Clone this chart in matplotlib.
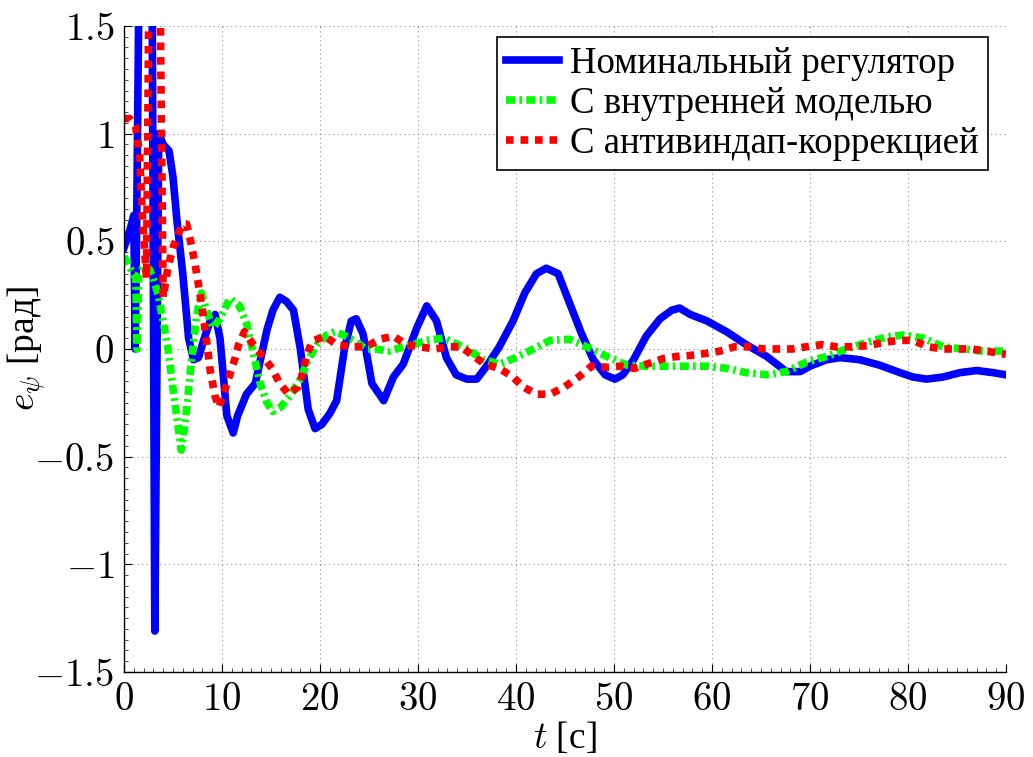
import numpy as np
import matplotlib
matplotlib.use("Agg")
from matplotlib import pyplot as plt
from matplotlib.ticker import MultipleLocator

# --- data ---
t_nom = [0, 0.6, 1.0, 1.15, 1.3, 1.7, 2.8, 3.15, 3.55, 4.0, 4.6, 5.0, 5.4, 6.0, 6.6, 7.1,
         7.6, 8.2, 8.8, 9.3, 9.8, 10.5, 11.15, 11.6, 12.5, 13.4, 14.6, 15.2, 15.9, 16.6,
         17.3, 18.0, 18.8, 19.5, 20.2, 21.0, 21.7, 22.5, 23.2, 23.7, 24.4, 25.3, 26.5,
         27.5, 28.5, 29.9, 30.9, 31.9, 32.9, 33.9, 35.0, 36.0, 37.0, 38.3, 39.7, 40.9,
         42.1, 43.1, 44.3, 45.5, 46.7, 47.9, 49.1, 50.1, 50.9, 52.0, 53.3, 54.7, 55.9,
         56.7, 57.8, 59.5, 61.5, 63.5, 65.6, 67.6, 69.0, 70.0, 71.7, 73.1, 75.1, 77.1,
         79.2, 80.5, 81.9, 83.6, 85.3, 87.0, 88.7, 90.0]
e_nom = [0.47, 0.55, 0.62, 0.0, 0.6, 2.5, 2.5, -1.31, 1.0, 0.95, 0.92, 0.8, 0.6, 0.35, 0.05,
         -0.05, -0.04, 0.05, 0.13, 0.16, 0.05, -0.31, -0.39, -0.31, -0.21, -0.16, 0.09, 0.18,
         0.24, 0.22, 0.18, 0.0, -0.28, -0.37, -0.35, -0.30, -0.24, 0.0, 0.13, 0.14, 0.07,
         -0.16, -0.24, -0.13, -0.07, 0.10, 0.20, 0.13, -0.04, -0.12, -0.14, -0.14, -0.08,
         0.01, 0.13, 0.26, 0.35, 0.375, 0.35, 0.21, 0.07, -0.05, -0.12, -0.14, -0.12, -0.05,
         0.06, 0.14, 0.18, 0.19, 0.16, 0.13, 0.08, 0.02, -0.035, -0.105, -0.105, -0.08,
         -0.05, -0.04, -0.05, -0.075, -0.11, -0.13, -0.14, -0.13, -0.11, -0.10, -0.11, -0.12]

t_im = [0, 0.7, 1.2, 1.35, 1.5, 2.0, 2.6, 3.0, 3.5, 4.0, 4.5, 5.0, 5.5, 5.85, 6.4, 6.9, 7.4,
        7.9, 8.5, 9.1, 9.8, 10.8, 11.8, 12.5, 13.2, 13.9, 14.6, 15.2, 16.0, 16.9, 18.0,
        18.8, 19.7, 20.7, 21.5, 22.4, 23.4, 24.7, 25.7, 27.1, 28.5, 29.5, 30.9, 32.6, 33.6,
        35.0, 36.7, 38.4, 40.0, 41.8, 43.5, 45.5, 47.2, 49.3, 51.3, 53.3, 55.4, 57.4, 59.5,
        61.5, 63.5, 65.6, 67.6, 69.7, 71.7, 73.7, 75.8, 77.8, 79.5, 81.6, 83.6, 85.6, 87.7,
        90.0]
e_im = [0.43, 0.37, 0.33, 0.0, 0.35, 0.38, 0.37, 0.33, 0.25, 0.13, 0.0, -0.18, -0.35, -0.47,
        -0.28, -0.05, 0.15, 0.26, 0.17, 0.10, 0.14, 0.235, 0.20, 0.12, -0.02, -0.16, -0.25,
        -0.29, -0.27, -0.22, -0.14, -0.05, 0.02, 0.065, 0.08, 0.065, 0.04, 0.0, 0.0, -0.01,
        0.01, 0.02, 0.04, 0.05, 0.03, 0.0, -0.05, -0.07, -0.04, 0.0, 0.04, 0.045, 0.01,
        -0.035, -0.075, -0.08, -0.08, -0.08, -0.08, -0.09, -0.11, -0.12, -0.105, -0.06,
        -0.035, 0.0, 0.03, 0.055, 0.065, 0.05, 0.01, 0.0, -0.01, -0.01]

t_aw = [0, 0.6, 1.2, 1.6, 1.9, 2.3, 2.7, 3.5, 4.0, 4.5, 5.0, 5.5, 6.0, 6.4, 6.8, 7.2, 7.6,
        8.0, 8.4, 8.8, 9.3, 9.7, 10.3, 10.8, 11.3, 11.7, 12.3, 13.2, 14.2, 15.1, 15.9, 16.8,
        17.8, 18.3, 18.6, 19.2, 20.5, 21.7, 23.2, 24.7, 26.1, 27.5, 28.8, 30.2, 31.7, 33.2,
        34.4, 35.6, 36.8, 38.3, 39.7, 40.7, 42.1, 43.5, 45.0, 46.4, 47.7, 49.3, 50.6, 52.1,
        53.7, 55.0, 56.4, 57.8, 59.5, 60.8, 62.3, 63.7, 65.2, 66.7, 68.2, 69.6, 71.2, 72.7,
        74.2, 75.8, 77.5, 79.0, 80.5, 82.1, 83.6, 85.0, 86.5, 88.0, 90.0]
e_aw = [1.07, 1.07, 1.03, 0.9, 0.6, 0.33, 2.5, 2.5, 0.24, 0.38, 0.47, 0.53, 0.58, 0.58, 0.5,
        0.41, 0.30, 0.18, 0.05, -0.1, -0.22, -0.27, -0.19, -0.12, -0.05, 0.02, 0.08, 0.02,
        -0.035, -0.09, -0.16, -0.21, -0.175, -0.105, -0.035, 0.035, 0.06, 0.02, 0.01, 0.01,
        0.045, 0.06, 0.02, 0.01, 0.0, 0.01, 0.01, -0.03, -0.07, -0.09, -0.13, -0.175, -0.21,
        -0.21, -0.175, -0.13, -0.08, -0.085, -0.08, -0.09, -0.065, -0.045, -0.035, -0.03,
        -0.02, -0.01, 0.01, 0.01, 0.0, 0.0, 0.0, 0.01, 0.02, 0.01, 0.01, 0.015, 0.03, 0.04,
        0.04, 0.01, 0.0, 0.0, 0.0, -0.01, -0.025]

labels = ["Номинальный регулятор", "С внутренней моделью", "С антивиндап-коррекцией"]
xticks = [0, 10, 20, 30, 40, 50, 60, 70, 80, 90]
yticks = [-1.5, -1, -0.5, 0, 0.5, 1, 1.5]
xtick_labels = ["$%g$" % v for v in xticks]
ytick_labels = ["$%g$" % v for v in yticks]

# serif face for the cyrillic text, Computer Modern for the math
plt.rcParams['font.family'] = 'serif'
plt.rcParams['font.serif'] = ['Liberation Serif', 'Times New Roman', 'DejaVu Serif']
plt.rcParams['mathtext.fontset'] = 'cm'

fig = plt.figure(figsize=(10.33, 7.57), dpi=100)
ax = fig.add_axes([0.120, 0.1123, 0.8538, 0.8534])

lw = 5.5
ax.plot(t_nom, e_nom, color=(0, 0, 1), lw=lw, solid_joinstyle='round', label=labels[0])
ax.plot(t_im, e_im, color=(0, 1, 0), lw=lw, dashes=(1.2, 0.55, 0.35, 0.55),
        dash_capstyle='butt', label=labels[1])
ax.plot(t_aw, e_aw, color=(1, 0, 0), lw=lw, dashes=(1, 0.9),
        dash_capstyle='butt', label=labels[2])

ax.set_xlim(0, 90)
ax.set_ylim(-1.5, 1.5)
ax.set_xticks(xticks, labels=xtick_labels)
ax.set_yticks(yticks, labels=ytick_labels)
ax.xaxis.set_minor_locator(MultipleLocator(1))
ax.yaxis.set_minor_locator(MultipleLocator(0.05))
ax.tick_params(which='both', direction='in', top=False, right=False, labelsize=28)
ax.tick_params(which='major', length=6, width=0.8, pad=7)
ax.tick_params(which='minor', length=3, width=0.5)
ax.grid(True, which='major', linestyle=(0, (1, 3)), color='0.55', lw=0.8)

for s in ['top', 'right']:
    ax.spines[s].set_visible(False)
for s in ['left', 'bottom']:
    ax.spines[s].set_linewidth(1.0)

ax.set_xlabel(r"$t$ [с]", fontsize=27, labelpad=1)
ax.set_ylabel(r"$e_\psi$ [рад]", fontsize=27)
ax.yaxis.set_label_coords(-0.086, 0.5)

leg = ax.legend(loc='upper right', bbox_to_anchor=(0.9796, 0.983), borderaxespad=0,
                prop={'family': 'serif', 'size': 26.5}, handlelength=1.45,
                handletextpad=0.3, borderpad=0.25, labelspacing=0.15,
                fancybox=False, framealpha=1, edgecolor='black')
leg.get_frame().set_linewidth(1.2)

fig.savefig("out.png", dpi=100)
